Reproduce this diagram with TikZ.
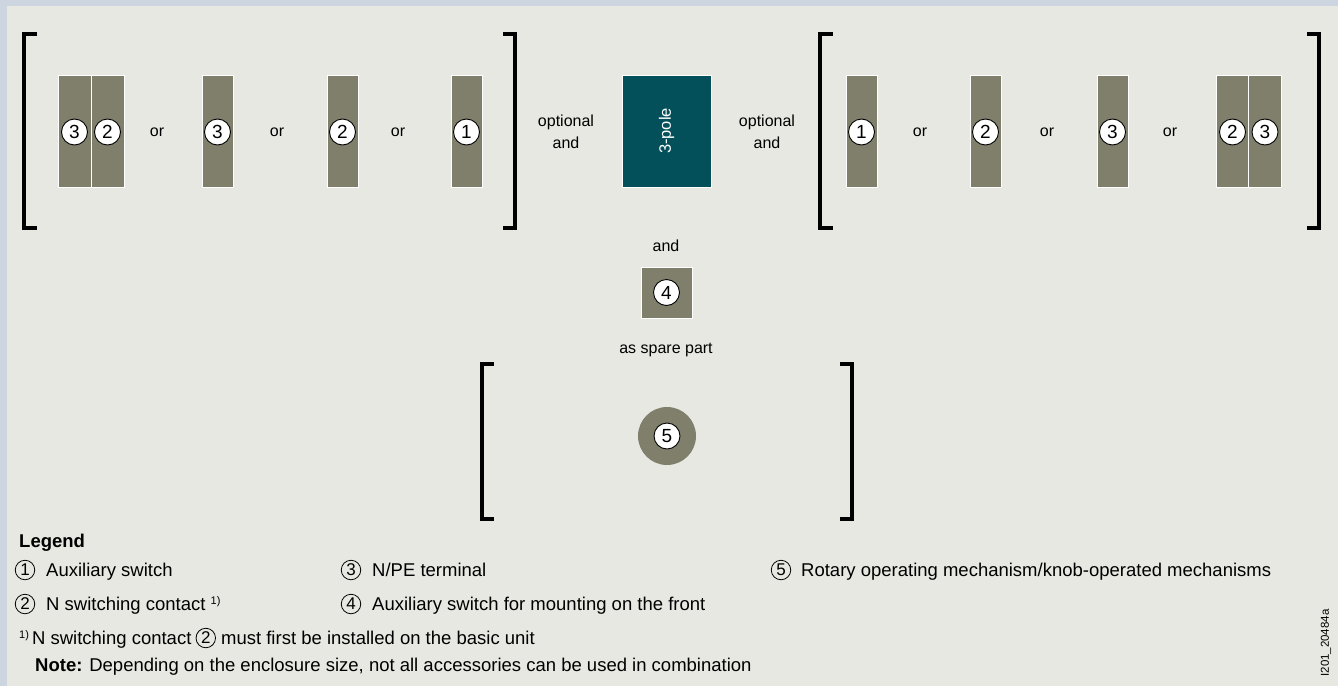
\documentclass[tikz,border=0pt]{standalone}
\usepackage{fontspec}
\setmainfont{Liberation Sans}
\usetikzlibrary{positioning}
\definecolor{bgouter}{HTML}{CDD5E0}
\definecolor{bginner}{HTML}{E8E8E3}
\definecolor{olivebar}{HTML}{807F6C}
\definecolor{tealbox}{HTML}{03505A}
\newcommand{\dfont}{\fontsize{16}{22}\selectfont}
\newcommand{\lfont}{\fontsize{18.5}{22}\selectfont}
\tikzset{
  bar/.style={fill=olivebar, draw=white, line width=0.8pt, minimum width=31pt, minimum height=112pt, inner sep=0pt},
  dbar/.style={bar, minimum width=33pt},
  num/.style={circle, draw=black, fill=white, line width=0.9pt, minimum size=26pt, inner sep=0pt, font=\fontsize{19}{19}\selectfont},
  lnum/.style={circle, draw=black, line width=0.8pt, minimum size=19.5pt, inner sep=0pt, font=\fontsize{17}{17}\selectfont},
  dtxt/.style={font=\dfont, inner sep=0pt, align=center},
  ltxt/.style={font=\lfont, inner sep=0pt, anchor=base west},
  brk/.style={line width=4pt, line cap=butt, line join=miter},
}
\begin{document}
\begin{tikzpicture}[x=1pt,y=-1pt]
% background
\fill[bgouter] (0,0) rectangle (1338,686);
\fill[bginner] (7,6) rectangle (1338,686);
\useasboundingbox (0,0) rectangle (1338,686);

% brackets
\draw[brk] (37,34) -- (24,34) -- (24,228) -- (37,228);
\draw[brk] (503,34) -- (515,34) -- (515,228) -- (503,228);
\draw[brk] (833,34) -- (820,34) -- (820,228) -- (833,228);
\draw[brk] (1307,34) -- (1319,34) -- (1319,228) -- (1307,228);
\draw[brk] (494,364) -- (482,364) -- (482,519) -- (494,519);
\draw[brk] (840,364) -- (852,364) -- (852,519) -- (840,519);

% left group
\node[dbar] (la1) at (74.5,131) {};
\node[dbar] (la2) at (107.5,131) {};
\node[num] (la1n) at (74.5,132) {3};
\node[num] (la2n) at (107.5,132) {2};
\node[dtxt] (lor1) at (157,132) {or};
\node[bar] (lb) at (217.5,131) {};
\node[num] (lbn) at (217.5,132) {3};
\node[dtxt] (lor2) at (277,132) {or};
\node[bar] (lc) at (342.5,131) {};
\node[num] (lcn) at (342.5,132) {2};
\node[dtxt] (lor3) at (398,132) {or};
\node[bar] (ld) at (466.5,131) {};
\node[num] (ldn) at (466.5,132) {1};

% centre
\node[dtxt] (optl) at (566,132) {optional\\and};
\node[fill=tealbox, draw=white, line width=0.8pt, minimum width=89pt, minimum height=112pt, inner sep=0pt] (pole) at (666.5,131) {};
\node[dtxt, text=white, rotate=90, font=\fontsize{16.5}{20}\selectfont] (polet) at (666.5,131) {3-pole};
\node[dtxt] (optr) at (767,132) {optional\\and};
\node[dtxt] (and) at (666,246) {and};
\node[fill=olivebar, draw=white, line width=0.8pt, minimum size=51pt, inner sep=0pt] (aux) at (666.5,292.5) {};
\node[num] (auxn) at (666.5,292.5) {4};
\node[dtxt] (spare) at (666,350) {as spare part};
\node[circle, fill=olivebar, minimum size=58pt, inner sep=0pt] (knob) at (667,436) {};
\node[num] (knobn) at (667,436) {5};

% right group
\node[bar] (ra) at (861.5,131) {};
\node[num] (ran) at (861.5,132) {1};
\node[dtxt] (ror1) at (920,132) {or};
\node[bar] (rb) at (985.5,131) {};
\node[num] (rbn) at (985.5,132) {2};
\node[dtxt] (ror2) at (1047,132) {or};
\node[bar] (rc) at (1112.5,131) {};
\node[num] (rcn) at (1112.5,132) {3};
\node[dtxt] (ror3) at (1170,132) {or};
\node[dbar] (rd1) at (1232.5,131) {};
\node[dbar] (rd2) at (1265,131) {};
\node[num] (rd1n) at (1232.5,132) {2};
\node[num] (rd2n) at (1265,132) {3};

% legend
\node[ltxt] (leg) at (19,547.5) {\textbf{Legend}};
\node[lnum] (c1) at (25,570) {1};
\node[ltxt] (t1) at (46,576.5) {Auxiliary switch};
\node[lnum] (c3) at (351,570) {3};
\node[ltxt] (t3) at (372,576.5) {N/PE terminal};
\node[lnum] (c5) at (781,570) {5};
\node[ltxt] (t5) at (801,576.5) {Rotary operating mechanism/knob-operated mechanisms};
\node[lnum] (c2) at (25,604) {2};
\node[ltxt] (t2) at (46,610.5) {N switching contact \textsuperscript{\fontsize{11}{11}\selectfont 1)}};
\node[lnum] (c4) at (351,604) {4};
\node[ltxt] (t4) at (372,610.5) {Auxiliary switch for mounting on the front};
\node[ltxt] (f1) at (19,644.5) {\raisebox{6pt}{\fontsize{11}{11}\selectfont 1)}\,N switching contact};
\node[lnum, anchor=west] (fc) at ([xshift=4pt]f1.base east |- 0,638) {2};
\node[ltxt, anchor=base west] (f2) at ([xshift=5pt]fc.east |- 0,644.5) {must first be installed on the basic unit};
\node[ltxt] (note) at (35,671.5) {\textbf{Note:} Depending on the enclosure size, not all accessories can be used in combination};

\node[inner sep=0pt, rotate=90, font=\fontsize{11.5}{12}\selectfont] (fig) at (1326,643) {I201\_20484a};
\end{tikzpicture}
\end{document}
